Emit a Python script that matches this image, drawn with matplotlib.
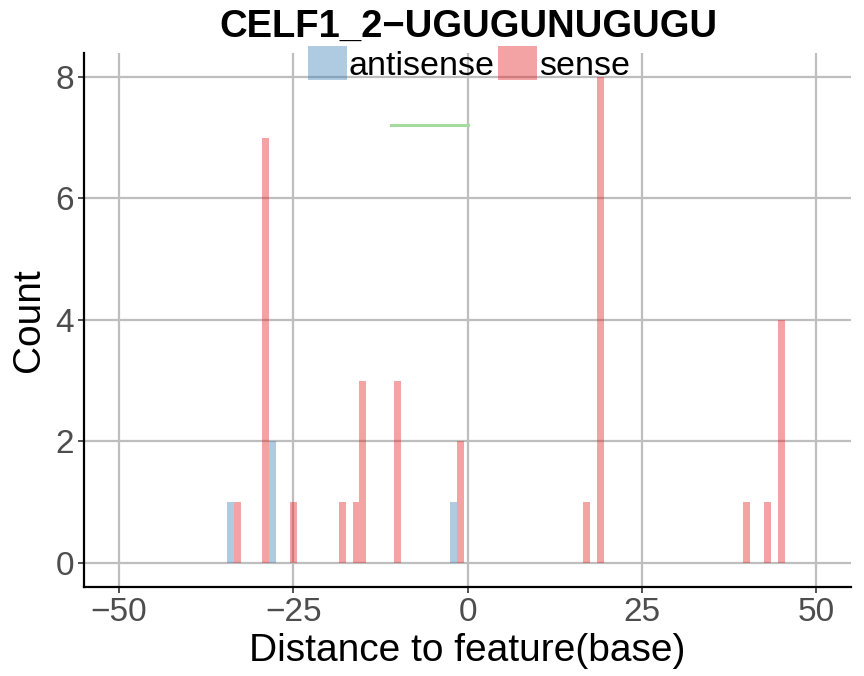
import matplotlib
matplotlib.use('Agg')
import matplotlib.pyplot as plt
from matplotlib.patches import Patch

plt.rcParams['font.family'] = ['Liberation Sans', 'DejaVu Sans']

# counts per distance
sense_pos = [-33, -29, -25, -18, -16, -15, -10, -1, 17, 19, 40, 43, 45]
sense_cnt = [1, 7, 1, 1, 1, 3, 3, 2, 1, 8, 1, 1, 4]
anti_pos = [-34, -28, -2]
anti_cnt = [1, 2, 1]
seg_x = [-11, 0]
seg_y = [7.2, 7.2]

title = 'CELF1_2\u2212UGUGUNUGUGU'
xticks = [-50, -25, 0, 25, 50]
xticklabels = ['\u221250', '\u221225', '0', '25', '50']
yticks = [0, 2, 4, 6, 8]

fig = plt.figure(figsize=(8.64, 6.76), dpi=100)
ax = fig.add_axes([0.0972, 0.1317, 0.888, 0.7905])

ax.set_axisbelow(True)
ax.grid(True, color='#bebebe', linewidth=1.6)
ax.bar(anti_pos, anti_cnt, width=1, color='#377EB8', alpha=0.4, linewidth=0)
ax.bar(sense_pos, sense_cnt, width=1, color='#E41A1C', alpha=0.4, linewidth=0)
ax.plot(seg_x, seg_y, color='#a6dba0', linewidth=2.2)

ax.set_xlim(-55, 55)
ax.set_ylim(-0.4, 8.4)
ax.set_xticks(xticks)
ax.set_xticklabels(xticklabels)
ax.set_yticks(yticks)
ax.tick_params(labelsize=24, labelcolor='#4d4d4d', color='#333333', length=4, width=1.2, pad=3)

for s in ['top', 'right']:
    ax.spines[s].set_visible(False)
for s in ['left', 'bottom']:
    ax.spines[s].set_linewidth(1.6)

ax.set_xlabel('Distance to feature(base)', fontsize=28, labelpad=4)
ax.set_ylabel('Count', fontsize=28, labelpad=6)
fig.text(0.542, 0.96, title, ha='center', va='center', fontsize=27.5, fontweight='bold')

handles = [Patch(facecolor='#377EB8', alpha=0.4, linewidth=0),
           Patch(facecolor='#E41A1C', alpha=0.4, linewidth=0)]
fig.legend(handles, ['antisense', 'sense'], loc='center', bbox_to_anchor=(0.543, 0.906),
           ncol=2, frameon=False, fontsize=24.5, handlelength=1.15, handleheight=1.2,
           handletextpad=0.05, columnspacing=0.1, borderpad=0)

fig.savefig('out.png', dpi=100)
